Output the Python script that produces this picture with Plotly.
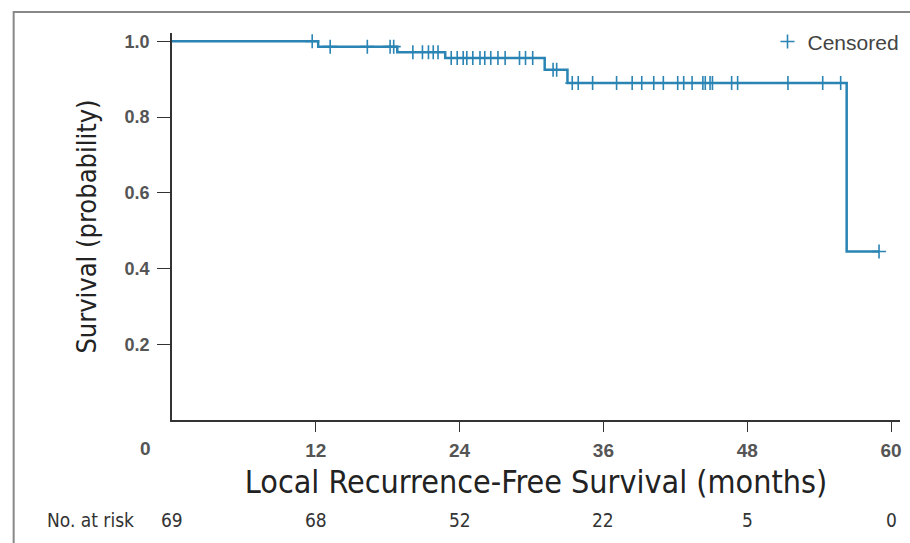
import plotly.graph_objects as go

# Kaplan-Meier step curve
event_times = [0, 12.2, 18.8, 22.8, 31.1, 33.0, 56.3, 59.0]
survival = [1.0, 0.986, 0.971, 0.956, 0.925, 0.890, 0.445, 0.445]

# censored observation times (months)
censor_times = [11.7,
                13.2, 16.3, 18.2, 18.5,
                20.1, 20.9, 21.4, 21.8, 22.2,
                23.3, 23.8, 24.3, 24.6, 25.1, 25.7, 26.1, 26.6, 27.2, 27.8, 29.0, 29.5, 30.1,
                31.8, 32.1,
                33.4, 33.9, 35.1, 37.1, 38.4, 39.2, 40.2, 41.0, 42.2, 42.7, 43.4, 44.3, 44.5,
                44.9, 45.1, 46.7, 47.2, 51.4, 54.3, 55.8,
                59.0]

tick_vals_x = [12, 24, 36, 48, 60]
tick_vals_y = [0.2, 0.4, 0.6, 0.8, 1.0]
risk_times = [0, 12, 24, 36, 48, 60]
risk_counts = [69, 68, 52, 22, 5, 0]


def surv_at(t):
    s = survival[0]
    for et, sv in zip(event_times, survival):
        if t >= et:
            s = sv
    return s


censor_surv = [surv_at(t) for t in censor_times]

COLOR = "#2a84b4"
NARROW = "DejaVu Sans Condensed, Liberation Sans Narrow, Arial Narrow, sans-serif"
SANS = "Liberation Sans, Arial, sans-serif"

fig = go.Figure()
fig.add_trace(go.Scatter(x=event_times, y=survival, mode="lines",
                         line=dict(shape="hv", color=COLOR, width=2.5),
                         showlegend=False, hoverinfo="skip"))
fig.add_trace(go.Scatter(x=censor_times, y=censor_surv, mode="markers",
                         marker=dict(symbol="cross-thin-open", size=10, color=COLOR,
                                     line=dict(color=COLOR, width=1.6)),
                         name="Censored"))

fig.update_layout(
    width=910, height=543,
    margin=dict(l=172, r=10, t=33, b=123, autoexpand=False),
    paper_bgcolor="white", plot_bgcolor="white",
    showlegend=True,
    legend=dict(x=0.818, y=0.977, xanchor="left", yanchor="middle",
                bgcolor="rgba(0,0,0,0)", font=dict(family=SANS, size=21, color="#444"),
                itemwidth=30),
    xaxis=dict(range=[0, 60.75], tickvals=tick_vals_x, ticks="outside", ticklen=10,
               tickcolor="#333", tickwidth=1.2, showline=True, linecolor="#333",
               linewidth=1.5, showgrid=False, zeroline=False,
               tickfont=dict(family=SANS, size=19, color="#555", weight="bold"),
               ticklabelstandoff=2,
               title=dict(text="Local Recurrence-Free Survival (months)",
                          font=dict(family=NARROW, size=32, color="#222"), standoff=11)),
    yaxis=dict(range=[0, 1.022], tickvals=tick_vals_y, ticktext=["0.2", "0.4", "0.6", "0.8", "1.0"],
               ticks="outside", ticklen=13, tickcolor="#333", tickwidth=1.2,
               showline=True, linecolor="#333", linewidth=1.5, showgrid=False, zeroline=False,
               tickfont=dict(family=SANS, size=18, color="#555", weight="bold"),
               ticklabelstandoff=4,
               title=dict(text="Survival (probability)",
                          font=dict(family=NARROW, size=27, color="#222"), standoff=20)),
)

# "0" tick label offset to the left of the axis origin
fig.add_annotation(x=0, y=0, xref="x", yref="y", text="0", showarrow=False,
                   xshift=-27, yshift=-28, font=dict(family=SANS, size=19, color="#555", weight="bold"))

# number at risk row
for t, n in zip(risk_times, risk_counts):
    fig.add_annotation(x=t, y=-0.258, xref="x", yref="paper", yanchor="middle", text=str(n),
                       showarrow=False, font=dict(family=NARROW, size=19, color="#333"))
fig.add_annotation(x=0, y=-0.258, xref="x", yref="paper", yanchor="middle", text="No. at risk",
                   showarrow=False, xanchor="right", xshift=-36,
                   font=dict(family=NARROW, size=19, color="#333"))

# outer frame
fig.add_shape(type="rect", xref="paper", yref="paper", x0=-0.2175, x1=1.02, y0=-0.33, y1=1.054,
              line=dict(color="#888", width=2), layer="below")

fig.write_html("out.html")
